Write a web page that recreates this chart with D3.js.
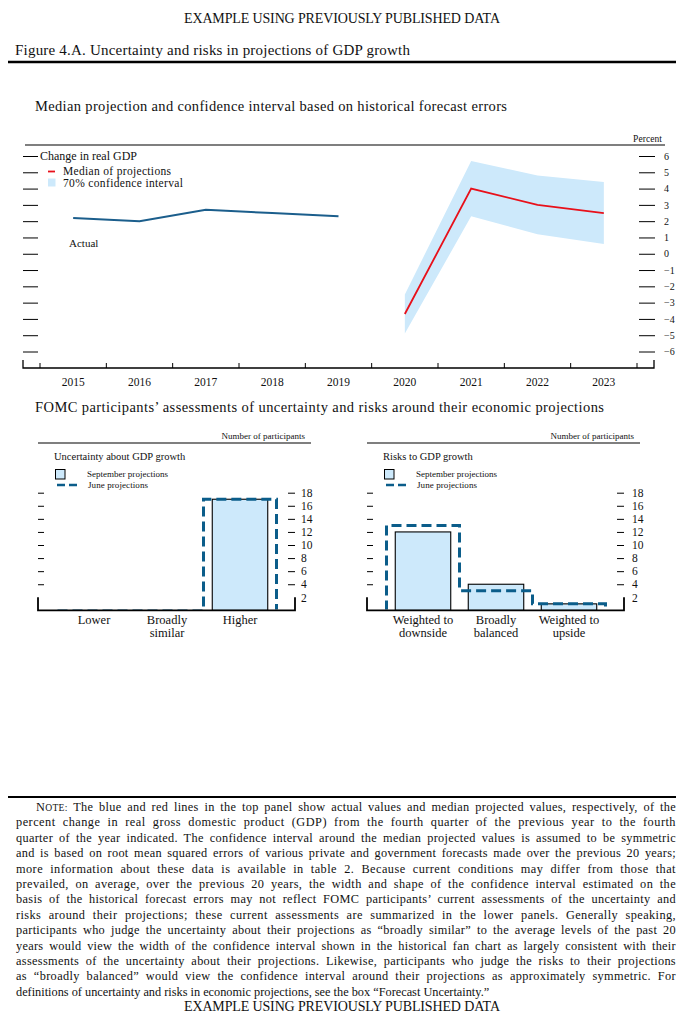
<!DOCTYPE html>
<html>
<head>
<meta charset="utf-8">
<script src="https://cdn.jsdelivr.net/npm/d3@7/dist/d3.min.js"></script>
<style>
body { margin: 0; background: #fff; }
svg { display: block; }
text { font-family: "Liberation Serif", "Times New Roman", serif; fill: #111; }
</style>
</head>
<body>
<svg id="chart" width="683" height="1020"></svg>
<script>
// ---- data ----
const years = ["2015", "2016", "2017", "2018", "2019", "2020", "2021", "2022", "2023"];
const actualYears = ["2015", "2016", "2017", "2018", "2019"];
const actualGdp = [2.2, 2.0, 2.7, 2.5, 2.3];
const projYears = ["2020", "2021", "2022", "2023"];
const medianGdp = [-3.7, 4.0, 3.0, 2.5];
const ciUpper = [-2.5, 5.7, 4.8, 4.4];
const ciLower = [-4.9, 2.3, 1.2, 0.6];
const pctTicks = [-6, -5, -4, -3, -2, -1, 0, 1, 2, 3, 4, 5, 6];

const uncCats = ["Lower", "Broadly\nsimilar", "Higher"];
const uncSept = [0, 0, 17];
const uncJune = [0, 0, 17];
const riskCats = ["Weighted to\ndownside", "Broadly\nbalanced", "Weighted to\nupside"];
const riskSept = [12, 4, 1];
const riskJune = [13, 3, 1];
const countTicks = [2, 4, 6, 8, 10, 12, 14, 16, 18];

const noteLines = [
  "The blue and red lines in the top panel show actual values and median projected values, respectively, of the",
  "percent change in real gross domestic product (GDP) from the fourth quarter of the previous year to the fourth",
  "quarter of the year indicated. The confidence interval around the median projected values is assumed to be symmetric",
  "and is based on root mean squared errors of various private and government forecasts made over the previous 20 years;",
  "more information about these data is available in table 2. Because current conditions may differ from those that",
  "prevailed, on average, over the previous 20 years, the width and shape of the confidence interval estimated on the",
  "basis of the historical forecast errors may not reflect FOMC participants\u2019 current assessments of the uncertainty and",
  "risks around their projections; these current assessments are summarized in the lower panels. Generally speaking,",
  "participants who judge the uncertainty about their projections as \u201cbroadly similar\u201d to the average levels of the past 20",
  "years would view the width of the confidence interval shown in the historical fan chart as largely consistent with their",
  "assessments of the uncertainty about their projections. Likewise, participants who judge the risks to their projections",
  "as \u201cbroadly balanced\u201d would view the confidence interval around their projections as approximately symmetric. For",
  "definitions of uncertainty and risks in economic projections, see the box \u201cForecast Uncertainty.\u201d"
];

const BLUE_FILL = "#cde9fb";
const LINE_BLUE = "#1b5e8c";
const DASH_BLUE = "#0b5d8a";

const svg = d3.select("#chart");

// ---- page texts and rules ----
const banner = "EXAMPLE USING PREVIOUSLY PUBLISHED DATA";
svg.append("text").attr("x", 342).attr("y", 22.5).attr("text-anchor", "middle")
  .attr("font-size", 14).attr("textLength", 316).text(banner);
svg.append("text").attr("x", 15).attr("y", 54.5).attr("font-size", 15).attr("textLength", 395)
  .text("Figure 4.A. Uncertainty and risks in projections of GDP growth");
svg.append("line").attr("x1", 8).attr("x2", 676).attr("y1", 62).attr("y2", 62)
  .attr("stroke", "#000").attr("stroke-width", 2.5);

svg.append("text").attr("x", 35).attr("y", 111).attr("font-size", 14.5).attr("textLength", 472)
  .text("Median projection and confidence interval based on historical forecast errors");

// ---- top panel: fan chart ----
const x = d3.scaleBand().domain(years).range([40, 637]);
const y = d3.scaleLinear().domain([-6, 6]).range([351.5, 156]);
const cx = d => x(d) + x.bandwidth() / 2;
const axisY = 368;

const fan = svg.append("g");
fan.append("line").attr("x1", 25).attr("x2", 665).attr("y1", 145).attr("y2", 145)
  .attr("stroke", "#000").attr("stroke-width", 1.2);
fan.append("text").attr("x", 662).attr("y", 142).attr("text-anchor", "end")
  .attr("font-size", 9.5).attr("textLength", 29).text("Percent");

const band = projYears.map((yr, i) => ({ yr, hi: ciUpper[i], lo: ciLower[i] }));
fan.append("path").datum(band)
  .attr("fill", BLUE_FILL)
  .attr("d", d3.area().x(d => cx(d.yr)).y0(d => y(d.lo)).y1(d => y(d.hi)));

fan.append("path").datum(actualYears.map((yr, i) => [yr, actualGdp[i]]))
  .attr("fill", "none").attr("stroke", LINE_BLUE).attr("stroke-width", 2)
  .attr("d", d3.line().x(d => cx(d[0])).y(d => y(d[1])));

fan.append("path").datum(projYears.map((yr, i) => [yr, medianGdp[i]]))
  .attr("fill", "none").attr("stroke", "#e8101a").attr("stroke-width", 1.8)
  .attr("d", d3.line().x(d => cx(d[0])).y(d => y(d[1])));

// y ticks both sides
const yl = fan.append("g").attr("transform", "translate(23,0)")
  .call(d3.axisRight(y).tickValues(pctTicks).tickSize(15).tickFormat(""));
const yr = fan.append("g").attr("transform", "translate(639,0)")
  .call(d3.axisRight(y).tickValues(pctTicks).tickSize(16).tickPadding(9).tickFormat(d3.format("")));
[yl, yr].forEach(g => {
  g.select(".domain").remove();
  g.selectAll(".tick line").attr("stroke", "#000").attr("stroke-width", 1);
  g.selectAll(".tick text").attr("font-size", 10).attr("font-family", "Liberation Serif").attr("fill", "#222");
});

// x axis with boundary ticks
fan.append("path").attr("fill", "none").attr("stroke", "#000").attr("stroke-width", 1.3)
  .attr("d", `M23,${axisY - 8}V${axisY}H654V${axisY - 8}`);
const edges = years.map(d => x(d)).concat([x.range()[1]]);
fan.selectAll("line.edge").data(edges).enter().append("line").attr("class", "edge")
  .attr("x1", d => d).attr("x2", d => d).attr("y1", axisY).attr("y2", axisY - 5)
  .attr("stroke", "#000").attr("stroke-width", 1);
const xa = fan.append("g").attr("transform", `translate(0,${axisY})`)
  .call(d3.axisBottom(x).tickSize(0).tickPadding(10));
xa.select(".domain").remove();
xa.selectAll(".tick text").attr("font-size", 11.5).attr("font-family", "Liberation Serif").attr("fill", "#222");

// legend
fan.append("text").attr("x", 40).attr("y", 160).attr("font-size", 12).text("Change in real GDP");
fan.append("line").attr("x1", 48).attr("x2", 55).attr("y1", 171.5).attr("y2", 171.5)
  .attr("stroke", "#e8101a").attr("stroke-width", 1.8);
fan.append("text").attr("x", 63).attr("y", 175).attr("font-size", 11.5).attr("textLength", 108)
  .text("Median of projections");
fan.append("rect").attr("x", 48).attr("y", 178.5).attr("width", 7.5).attr("height", 8).attr("fill", BLUE_FILL);
fan.append("text").attr("x", 63).attr("y", 187).attr("font-size", 11.5).attr("textLength", 120)
  .text("70% confidence interval");
fan.append("text").attr("x", 69).attr("y", 247).attr("font-size", 11).text("Actual");

// ---- lower panels ----
svg.append("text").attr("x", 35).attr("y", 412).attr("font-size", 14.5).attr("textLength", 569)
  .text("FOMC participants\u2019 assessments of uncertainty and risks around their economic projections");

const yB = d3.scaleLinear().domain([0, 18]).range([610.4, 492.7]);

function barPanel(opts) {
  const g = svg.append("g");
  const xb = d3.scaleBand().domain(opts.cats).range([opts.b0, opts.b1]);
  const base = yB(0);

  g.append("text").attr("x", opts.ruleEnd - 6).attr("y", 439).attr("text-anchor", "end")
    .attr("font-size", 9).text("Number of participants");
  g.append("line").attr("x1", opts.x0).attr("x2", opts.ruleEnd).attr("y1", 443).attr("y2", 443)
    .attr("stroke", "#000").attr("stroke-width", 1.2);
  g.append("text").attr("x", opts.x0 + 16).attr("y", 460).attr("font-size", 10.5).text(opts.title);

  // legend
  g.append("rect").attr("x", opts.x0 + 17.5).attr("y", 469.5).attr("width", 9.5).attr("height", 9.5)
    .attr("fill", BLUE_FILL).attr("stroke", "#000").attr("stroke-width", 1);
  g.append("text").attr("x", opts.x0 + 49).attr("y", 477).attr("font-size", 9).attr("textLength", 81)
    .text("September projections");
  g.append("line").attr("x1", opts.x0 + 19).attr("x2", opts.x0 + 40).attr("y1", 485).attr("y2", 485)
    .attr("stroke", DASH_BLUE).attr("stroke-width", 2.5).attr("stroke-dasharray", "8,4");
  g.append("text").attr("x", opts.x0 + 50).attr("y", 488).attr("font-size", 9).attr("textLength", 60)
    .text("June projections");

  // September bars
  const bars = opts.cats.map((c, i) => ({ c, v: opts.sept[i] }));
  g.selectAll("rect.bar").data(bars.filter(d => d.v > 0)).enter().append("rect").attr("class", "bar")
    .attr("x", d => xb(d.c) + xb.bandwidth() * 0.12)
    .attr("width", xb.bandwidth() * 0.76)
    .attr("y", d => yB(d.v)).attr("height", d => base - yB(d.v))
    .attr("fill", BLUE_FILL).attr("stroke", "#000").attr("stroke-width", 1.1);

  // June step outline (kept above the baseline)
  const clipId = "clip" + opts.x0;
  g.append("clipPath").attr("id", clipId).append("rect")
    .attr("x", opts.x0).attr("y", 480).attr("width", opts.x1 - opts.x0).attr("height", base - 480 - 1);
  const pts = [[opts.b0, base]];
  opts.cats.forEach((c, i) => {
    pts.push([xb(c), yB(opts.june[i])]);
    pts.push([xb(c) + xb.bandwidth(), yB(opts.june[i])]);
  });
  pts.push([opts.b1, base]);
  g.append("path").datum(pts).attr("fill", "none").attr("stroke", DASH_BLUE)
    .attr("clip-path", `url(#${clipId})`)
    .attr("stroke-width", 3).attr("stroke-dasharray", "10,5")
    .attr("d", d3.line());

  // ticks
  const la = g.append("g").attr("transform", `translate(${opts.x0},0)`)
    .call(d3.axisRight(yB).tickValues(countTicks.slice(1)).tickSize(6).tickFormat(""));
  const ra = g.append("g").attr("transform", `translate(${opts.x1 - 7},0)`)
    .call(d3.axisRight(yB).tickValues(countTicks).tickSize(7).tickPadding(opts.pad).tickFormat(d3.format("")));
  [la, ra].forEach(a => {
    a.select(".domain").remove();
    a.selectAll(".tick line").attr("stroke", "#000");
    a.selectAll(".tick text").attr("font-size", 11.5).attr("font-family", "Liberation Serif").attr("fill", "#222");
  });
  ra.selectAll(".tick").filter(d => d === 2).select("line").remove();

  g.append("path").attr("fill", "none").attr("stroke", "#000").attr("stroke-width", 1.8)
    .attr("d", `M${opts.x0},${yB(2)}V${base}H${opts.x1}V${yB(2)}`);

  // category labels
  const lab = g.selectAll("text.cat").data(opts.cats).enter().append("text").attr("class", "cat")
    .attr("text-anchor", "middle").attr("font-size", 12.5).attr("fill", "#222")
    .attr("x", d => xb(d) + xb.bandwidth() / 2).attr("y", 624);
  lab.selectAll("tspan").data(d => d.split("\n")).enter().append("tspan")
    .attr("x", function () { return d3.select(this.parentNode).attr("x"); })
    .attr("dy", (d, i) => i ? 12.5 : 0).text(d => d);
}

barPanel({ cats: uncCats, sept: uncSept, june: uncJune, title: "Uncertainty about GDP growth",
  x0: 38, x1: 295, b0: 57.5, b1: 276.5, ruleEnd: 311, pad: 6 });
barPanel({ cats: riskCats, sept: riskSept, june: riskJune, title: "Risks to GDP growth",
  x0: 367, x1: 624, b0: 386.5, b1: 605.5, ruleEnd: 640, pad: 8 });

// ---- note, justified: extra width shared by word and letter spacing ----
svg.append("line").attr("x1", 8).attr("x2", 676).attr("y1", 797).attr("y2", 797)
  .attr("stroke", "#000").attr("stroke-width", 2.2);
const note = svg.append("g").attr("font-size", 12.3);
noteLines.forEach((s, i) => {
  const t = note.append("text").attr("y", 811 + i * 15.4);
  let x0 = 16, txt = s;
  if (i === 0) {
    x0 = 36;
    t.append("tspan").text("N");
    t.append("tspan").attr("font-size", 9.6).text("OTE:");
    t.append("tspan").text(" " + s);
    txt = "NOTE: " + s;
  } else {
    t.text(s);
  }
  t.attr("x", x0);
  if (i < noteLines.length - 1) {
    const spaces = txt.split(" ").length - 1;
    const extra = 676 - x0 - t.node().getComputedTextLength();
    t.attr("word-spacing", 0.55 * extra / spaces)
      .attr("letter-spacing", 0.45 * extra / txt.length);
  }
});
svg.append("text").attr("x", 342).attr("y", 1011).attr("text-anchor", "middle")
  .attr("font-size", 14).attr("textLength", 316).text(banner);
</script>
</body>
</html>
